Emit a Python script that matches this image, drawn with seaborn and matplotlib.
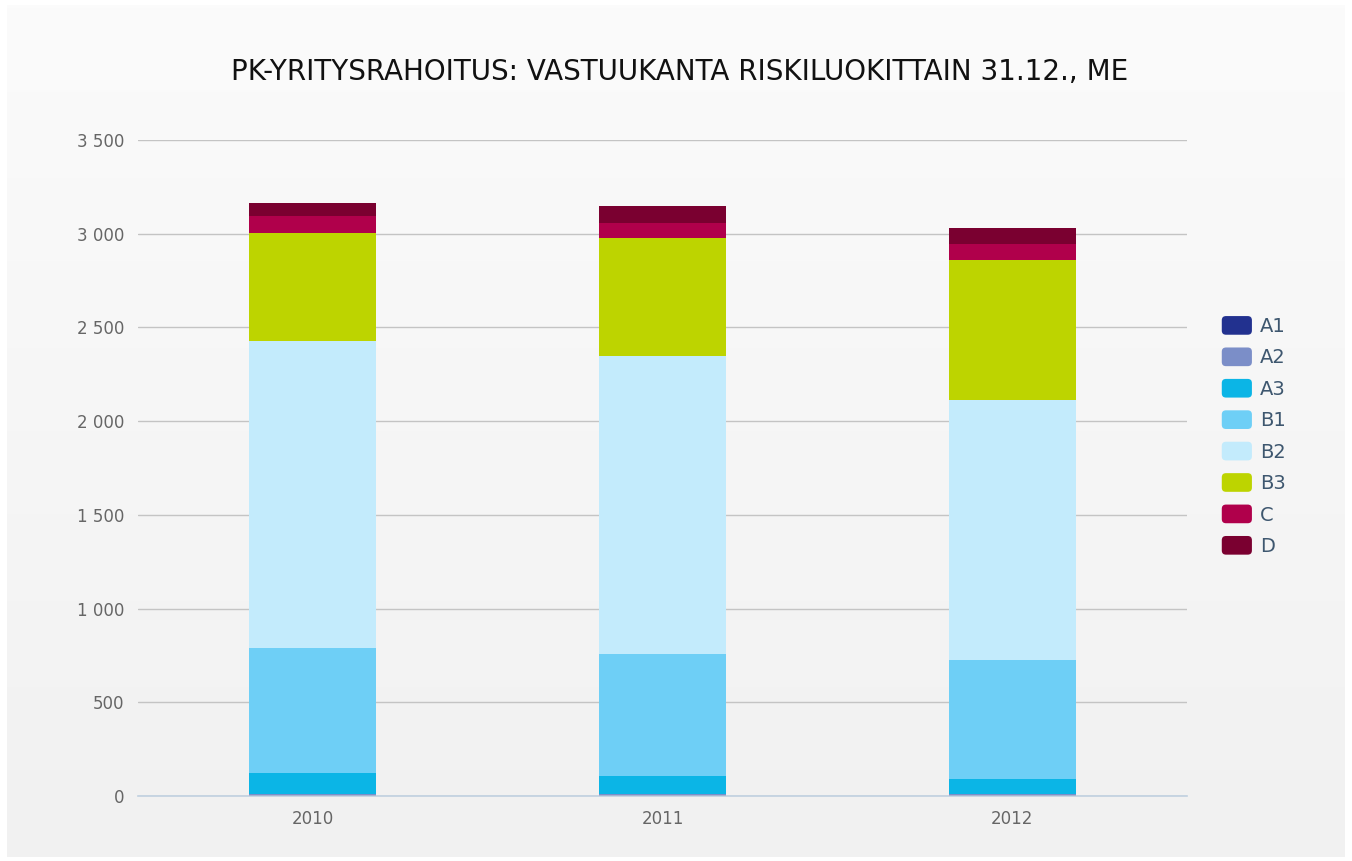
import numpy as np
import pandas as pd
import matplotlib.pyplot as plt
import seaborn as sns
from matplotlib.colors import LinearSegmentedColormap
from matplotlib.legend_handler import HandlerPatch
from matplotlib.patches import FancyBboxPatch, Rectangle

# -----------------------------
# Data (ME)
# -----------------------------

years = ['2010', '2011', '2012']
classes = ['A1', 'A2', 'A3', 'B1', 'B2', 'B3', 'C', 'D']

a1 = [3, 3, 3]
a2 = [10, 9, 8]
a3 = [110, 95, 78]
b1 = [667, 651, 637]
b2 = [1638, 1590, 1387]
b3 = [575, 630, 747]
c = [92, 80, 85]
d = [71, 90, 88]

colors = ['#22318f', '#7b8ec8', '#0bb5e6', '#6ecff6',
          '#c3ebfc', '#bdd400', '#b0004b', '#7a0030']

title = 'PK-YRITYSRAHOITUS: VASTUUKANTA RISKILUOKITTAIN 31.12., ME'

df = pd.DataFrame(
    dict(zip(classes, [a1, a2, a3, b1, b2, b3, c, d])),
    index=years
)

# -----------------------------
# Figure
# -----------------------------

sns.set_style('white')
plt.rcParams['font.family'] = ['DejaVu Sans']

fig = plt.figure(figsize=(13.52, 8.61), dpi=100)
fig.patch.set_facecolor('white')

# background panel with a soft gradient
bg = fig.add_axes([7 / 1352, 4 / 861, 1338 / 1352, 852 / 861], zorder=-10)
grad = np.linspace(0, 1, 256).reshape(-1, 1)
bg.imshow(grad, aspect='auto',
          cmap=LinearSegmentedColormap.from_list('g', ['#fbfbfb', '#f1f1f1']),
          extent=[0, 1, 0, 1], origin='upper')
bg.axis('off')

ax = fig.add_axes([138 / 1352, 1 - 796 / 861, 1049 / 1352, 656 / 861])
ax.set_facecolor('none')

bottom = np.zeros(len(years))
for cls, col in zip(classes, colors):
    sns.barplot(
        x=df.index, y=df[cls].values, bottom=bottom,
        color=col, width=0.363, ax=ax, label=cls,
        linewidth=0, saturation=1
    )
    bottom = bottom + df[cls].values

if ax.get_legend() is not None:
    ax.get_legend().remove()

ax.set_ylim(0, 3500)
ax.set_xlim(-0.5, 2.5)
ax.set_yticks(range(0, 3501, 500))
ax.set_yticklabels([f'{v:,}'.replace(',', ' ') for v in range(0, 3501, 500)])
ax.yaxis.grid(True, color='#c4c4c4', linewidth=1)
ax.set_axisbelow(True)

for s in ['top', 'right', 'left']:
    ax.spines[s].set_visible(False)
ax.spines['bottom'].set_color('#c0d0e0')
ax.spines['bottom'].set_linewidth(1.2)

ax.tick_params(axis='y', length=0, labelsize=12, labelcolor='#666666', pad=10)
ax.tick_params(axis='x', length=0, labelsize=12, labelcolor='#666666', pad=10)

# category boundary ticks
ax.set_xticks([-0.5, 0.5, 1.5, 2.5], minor=True)
ax.tick_params(axis='x', which='minor', length=7, width=1.2, color='#c0d0e0')

ax.set_xlabel('')
ax.set_ylabel('')

fig.text(0.503, 1 - 72 / 861, title, ha='center', va='center',
         fontsize=20, color='#111111')


# rounded legend markers
class RoundHandler(HandlerPatch):
    def create_artists(self, legend, orig_handle, xdescent, ydescent,
                       width, height, fontsize, trans):
        p = FancyBboxPatch((-xdescent + 1.5, -ydescent + 1.5), width - 3, height - 3,
                           boxstyle='round,pad=1.5,rounding_size=3',
                           facecolor=orig_handle.get_facecolor(),
                           edgecolor='none', transform=trans)
        return [p]


handles = [Rectangle((0, 0), 1, 1, facecolor=col) for col in colors]
leg = fig.legend(handles, classes, loc='center left',
                 bbox_to_anchor=(1214 / 1352, 1 - 436 / 861),
                 frameon=False, fontsize=14, labelcolor='#3e576f',
                 handlelength=1.55, handleheight=1.1, handletextpad=0.4,
                 labelspacing=0.59, borderaxespad=0,
                 handler_map={Rectangle: RoundHandler()})

fig.savefig('out.png', dpi=100, facecolor=fig.get_facecolor())
